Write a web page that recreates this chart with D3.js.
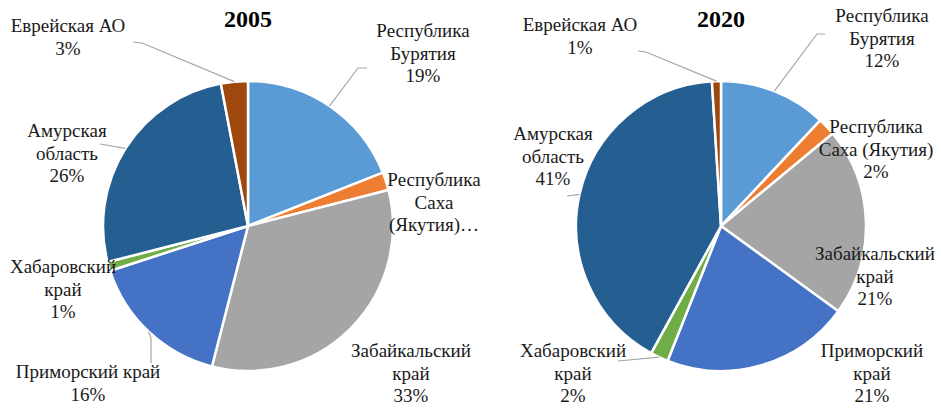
<!DOCTYPE html>
<html>
<head>
<meta charset="utf-8">
<script src="https://cdn.jsdelivr.net/npm/d3@7"></script>
<style>
  body { margin: 0; background: #fff; }
</style>
</head>
<body>
<svg id="chart" width="941" height="408"></svg>
<script>
// regions, clockwise from 12 o'clock
var regions = ['Республика Бурятия', 'Республика Саха (Якутия)', 'Забайкальский край',
  'Приморский край', 'Хабаровский край', 'Амурская область', 'Еврейская АО'];
var years = ['2005', '2020'];
var values2005 = [19, 2, 33, 16, 1, 26, 3];
var values2020 = [12, 2, 21, 21, 2, 41, 1];
var colors = ['#5b9bd5', '#ed7d31', '#a5a5a5', '#4472c4', '#70ad47', '#255e91', '#9e480e'];

// label text lines (the percent line is appended from the values)
var labels2005 = [['Республика', 'Бурятия'], ['Республика', 'Саха', '(Якутия)…'], ['Забайкальский', 'край'],
  ['Приморский край'], ['Хабаровский', 'край'], ['Амурская', 'область'], ['Еврейская АО']];
var labels2020 = [['Республика', 'Бурятия'], ['Республика', 'Саха (Якутия)'], ['Забайкальский', 'край'],
  ['Приморский', 'край'], ['Хабаровский', 'край'], ['Амурская', 'область'], ['Еврейская АО']];

// label layout: centre x, first baseline, optional leader start points (pie end is computed)
var layout2005 = [
  {x: 423, y: 37, lead: [[367, 68], [358, 68]]},
  {x: 434, y: 186, nopct: true},
  {x: 411, y: 357},
  {x: 88, y: 378, lead: [[151, 363], [151, 338]]},
  {x: 63, y: 273},
  {x: 67, y: 137, lead: [[100, 144]]},
  {x: 68, y: 32, lead: [[133, 42], [142, 43]]}
];
var layout2020 = [
  {x: 882, y: 22, lead: [[825, 34], [817, 34]]},
  {x: 876, y: 133},
  {x: 875, y: 260},
  {x: 872, y: 357},
  {x: 573, y: 357, lead: [[618, 361]]},
  {x: 553, y: 140, lead: [[567, 196]]},
  {x: 580, y: 31, lead: [[638, 51], [646, 52]]}
];

var font = '"Liberation Serif", "Times New Roman", "DejaVu Serif", serif';
var svg = d3.select('#chart');
var radius = 145;
var lineH = 22.5;

var pie = d3.pie().sort(null).value(function(d) { return d; });
var arc = d3.arc().innerRadius(0).outerRadius(radius);

function drawPie(cx, cy, title, values, labels, layout) {
  var g = svg.append('g').attr('transform', 'translate(' + cx + ',' + cy + ')');
  var arcs = pie(values);

  g.selectAll('path.slice')
    .data(arcs)
    .enter().append('path')
    .attr('class', 'slice')
    .attr('d', arc)
    .attr('fill', function(d, i) { return colors[i]; })
    .attr('stroke', '#fff')
    .attr('stroke-width', 2.5)
    .attr('stroke-linejoin', 'round');

  // leader lines
  arcs.forEach(function(d, i) {
    var l = layout[i];
    if (!l.lead) return;
    var mid = (d.startAngle + d.endAngle) / 2;
    var end = [cx + radius * Math.sin(mid), cy - radius * Math.cos(mid)];
    var pts = l.lead.concat([end]);
    svg.append('path')
      .attr('d', d3.line()(pts))
      .attr('fill', 'none')
      .attr('stroke', '#a6a6a6')
      .attr('stroke-width', 1.2);
  });

  // labels
  arcs.forEach(function(d, i) {
    var l = layout[i];
    var lines = labels[i].slice();
    if (!l.nopct) lines.push(d3.format('.0f')(values[i]) + '%');
    var t = svg.append('text')
      .attr('text-anchor', 'middle')
      .style('font-family', font)
      .style('font-size', '19px')
      .attr('fill', '#1a1a1a');
    lines.forEach(function(s, k) {
      t.append('tspan').attr('x', l.x).attr('y', l.y + k * lineH).text(s);
    });
  });

  svg.append('text')
    .attr('x', cx)
    .attr('y', 27)
    .attr('text-anchor', 'middle')
    .style('font-family', font)
    .style('font-size', '24px')
    .style('font-weight', 'bold')
    .attr('fill', '#000')
    .text(title);
}

drawPie(248, 226, years[0], values2005, labels2005, layout2005);
drawPie(721, 226, years[1], values2020, labels2020, layout2020);
</script>
</body>
</html>
